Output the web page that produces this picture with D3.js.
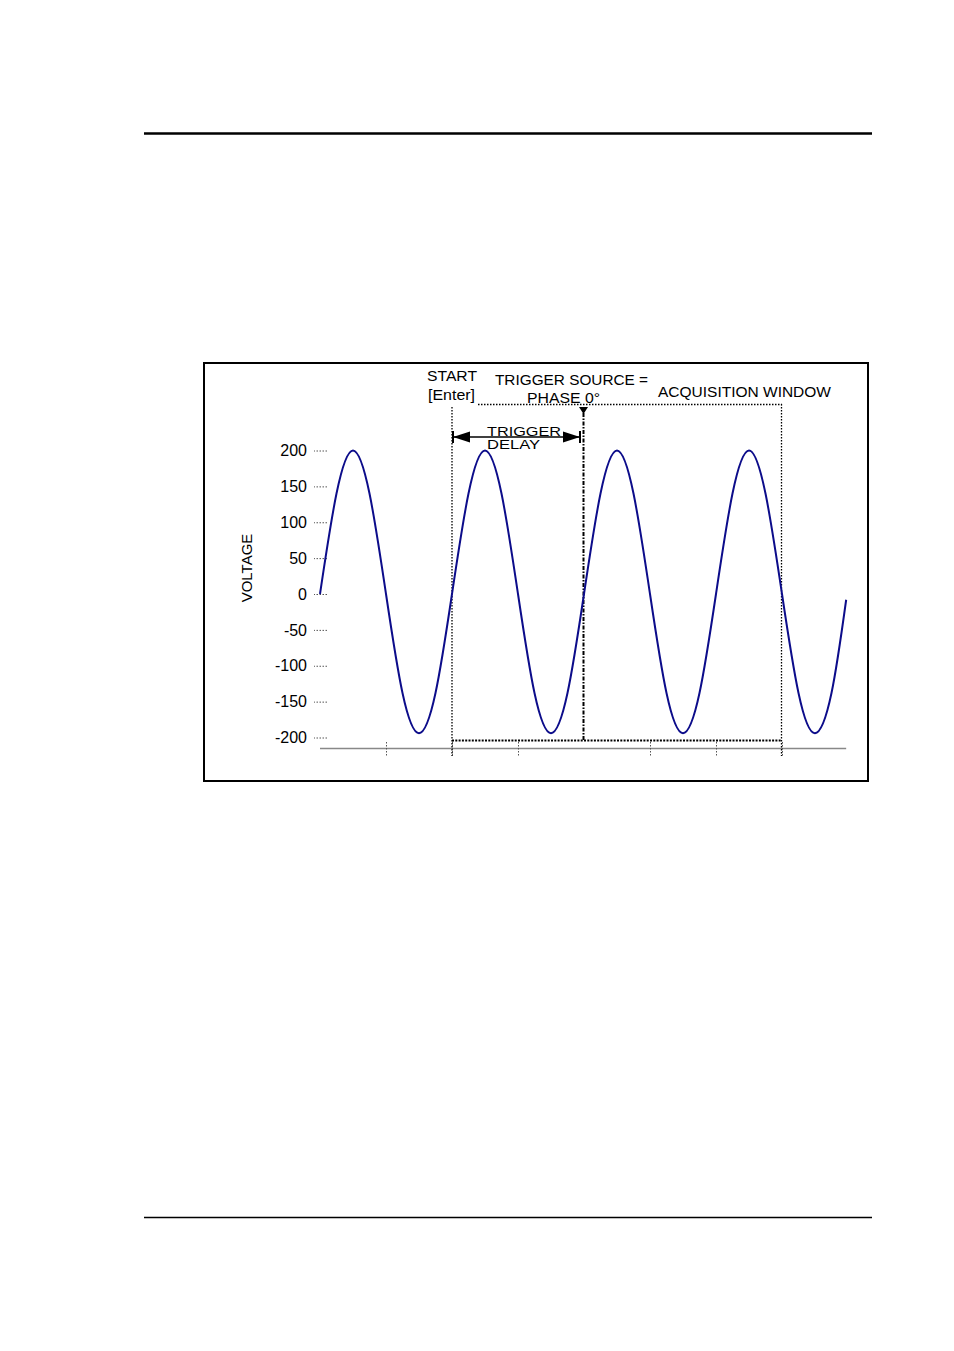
<!DOCTYPE html>
<html>
<head>
<meta charset="utf-8">
<script src="https://cdn.jsdelivr.net/npm/d3@7"></script>
<style>
html,body{margin:0;padding:0;background:#fff;}
svg{display:block;}
text{font-family:"Liberation Sans",Arial,sans-serif;fill:#000;}
</style>
</head>
<body>
<svg id="chart" width="954" height="1351"></svg>
<script>
// ---- data (phase in degrees, voltage) ----
const phaseDeg = [0,45,90,135,180,225,270,315,360,405,450,495,540,585,630,675,720,765,810,855,900,945,990,1035,1080,1125,1170,1215,1260,1305,1350,1395,1435];
const voltage  = [0,140,200,140,0,-138,-194,-138,0,140,200,140,0,-138,-194,-138,0,140,200,140,0,-138,-194,-138,0,140,200,140,0,-138,-194,-138,-8];
const yTickValues = [200,150,100,50,0,-50,-100,-150,-200];
const xTickValues = [180,360,540,900,1080,1260];
const startDeg = 360, triggerDeg = 720, windowEndDeg = 1260;

const svg = d3.select("#chart");

// page rules
svg.append("line").attr("x1",144).attr("x2",872).attr("y1",133.5).attr("y2",133.5)
  .attr("stroke","#000").attr("stroke-width",2.5);
svg.append("line").attr("x1",144).attr("x2",872).attr("y1",1217.5).attr("y2",1217.5)
  .attr("stroke","#000").attr("stroke-width",1.3);

// frame
svg.append("rect").attr("x",204).attr("y",363).attr("width",664).attr("height",418)
  .attr("fill","none").attr("stroke","#000").attr("stroke-width",2);

const x = d3.scaleLinear().domain([0,1440]).range([320,848]);
const y = d3.scaleLinear().domain([-200,200]).range([737.5,450.5]);

// y axis
const yAxis = d3.axisLeft(y).tickValues(yTickValues).tickSize(13).tickPadding(7).tickFormat(d => String(d));
const gy = svg.append("g").attr("transform","translate(327,0)").call(yAxis);
gy.select(".domain").remove();
gy.selectAll(".tick line").attr("stroke","#555").attr("stroke-dasharray","1.5,1.5");
gy.selectAll(".tick text").style("font-size","16px").style("font-family","'Liberation Sans',Arial,sans-serif").attr("fill","#000");

// x axis line
svg.append("line").attr("x1",x(0)).attr("x2",x(1435)).attr("y1",748.5).attr("y2",748.5)
  .attr("stroke","#888").attr("stroke-width",1.3);
const xAxis = d3.axisBottom(x).tickValues(xTickValues).tickSize(8).tickFormat("");
const gx = svg.append("g").attr("transform","translate(0,748)").call(xAxis);
gx.select(".domain").remove();
gx.selectAll(".tick line").attr("y1",-6).attr("stroke","#555").attr("stroke-dasharray","1.5,1.5");

// Y title
svg.append("text").attr("transform","translate(252,568) rotate(-90)")
  .attr("text-anchor","middle").style("font-size","15px").text("VOLTAGE");

// acquisition window (dotted)
const dot = sel => sel.attr("stroke","#000").attr("stroke-width",1.3).attr("stroke-dasharray","1.5,1.5").attr("fill","none");
svg.append("line").attr("x1",478).attr("x2",x(windowEndDeg)).attr("y1",404.5).attr("y2",404.5).call(dot);
svg.append("line").attr("x1",x(startDeg)).attr("x2",x(startDeg)).attr("y1",407).attr("y2",756).call(dot);
svg.append("line").attr("x1",x(windowEndDeg)-0.5).attr("x2",x(windowEndDeg)-0.5).attr("y1",404).attr("y2",756).call(dot);
svg.append("line").attr("x1",x(startDeg)).attr("x2",x(windowEndDeg)).attr("y1",740.5).attr("y2",740.5)
  .attr("stroke","#000").attr("stroke-width",2).attr("stroke-dasharray","2,1.3");

// trigger line
svg.append("line").attr("x1",x(triggerDeg)-0.5).attr("x2",x(triggerDeg)-0.5).attr("y1",413).attr("y2",741)
  .attr("stroke","#000").attr("stroke-width",2).attr("stroke-dasharray","4,1.5,1.5,1.5");
const tx = x(triggerDeg)-0.5;
svg.append("path").attr("d",`M${tx-4.5},407 L${tx+4.5},407 L${tx},414 Z`).attr("fill","#000");

// wave
const line = d3.line().x((d,i)=>x(phaseDeg[i])).y(d=>y(d)).curve(d3.curveNatural);
svg.append("path").datum(voltage).attr("d",line).attr("fill","none")
  .attr("stroke","#0c0c8a").attr("stroke-width",2);

// trigger delay arrow
const ax1 = x(startDeg)+1, ax2 = x(triggerDeg)-4, ay = 437;
svg.append("line").attr("x1",ax1).attr("x2",ax2).attr("y1",ay).attr("y2",ay).attr("stroke","#000").attr("stroke-width",1.6);
svg.append("path").attr("d",`M${ax1},${ay} L${ax1+17},${ay-5.5} L${ax1+17},${ay+5.5} Z`).attr("fill","#000");
svg.append("path").attr("d",`M${ax2},${ay} L${ax2-17},${ay-5.5} L${ax2-17},${ay+5.5} Z`).attr("fill","#000");
svg.append("line").attr("x1",ax1).attr("x2",ax1).attr("y1",ay-6).attr("y2",ay+6).attr("stroke","#000").attr("stroke-width",2);
svg.append("line").attr("x1",ax2).attr("x2",ax2).attr("y1",ay-6).attr("y2",ay+6).attr("stroke","#000").attr("stroke-width",2);

// labels
const labels = [
  {t:"START", x:427, w:50, cy:376, fs:14.5},
  {t:"[Enter]", x:428, w:47, cy:395, fs:14.5},
  {t:"TRIGGER SOURCE =", x:495, w:153, cy:380, fs:14.5},
  {t:"PHASE 0°", x:527, w:73, cy:398, fs:14.5},
  {t:"ACQUISITION WINDOW", x:658, w:173, cy:392, fs:14.5},
  {t:"TRIGGER", x:487, w:74, cy:431, fs:13.5},
  {t:"DELAY", x:487, w:53, cy:444, fs:13.5}
];
svg.selectAll("text.lbl").data(labels).enter().append("text").attr("class","lbl")
  .attr("x",d=>d.x).attr("y",d=>d.cy).attr("dy","0.36em")
  .attr("textLength",d=>d.w).attr("lengthAdjust","spacingAndGlyphs")
  .style("font-size",d=>d.fs+"px").text(d=>d.t);
</script>
</body>
</html>
